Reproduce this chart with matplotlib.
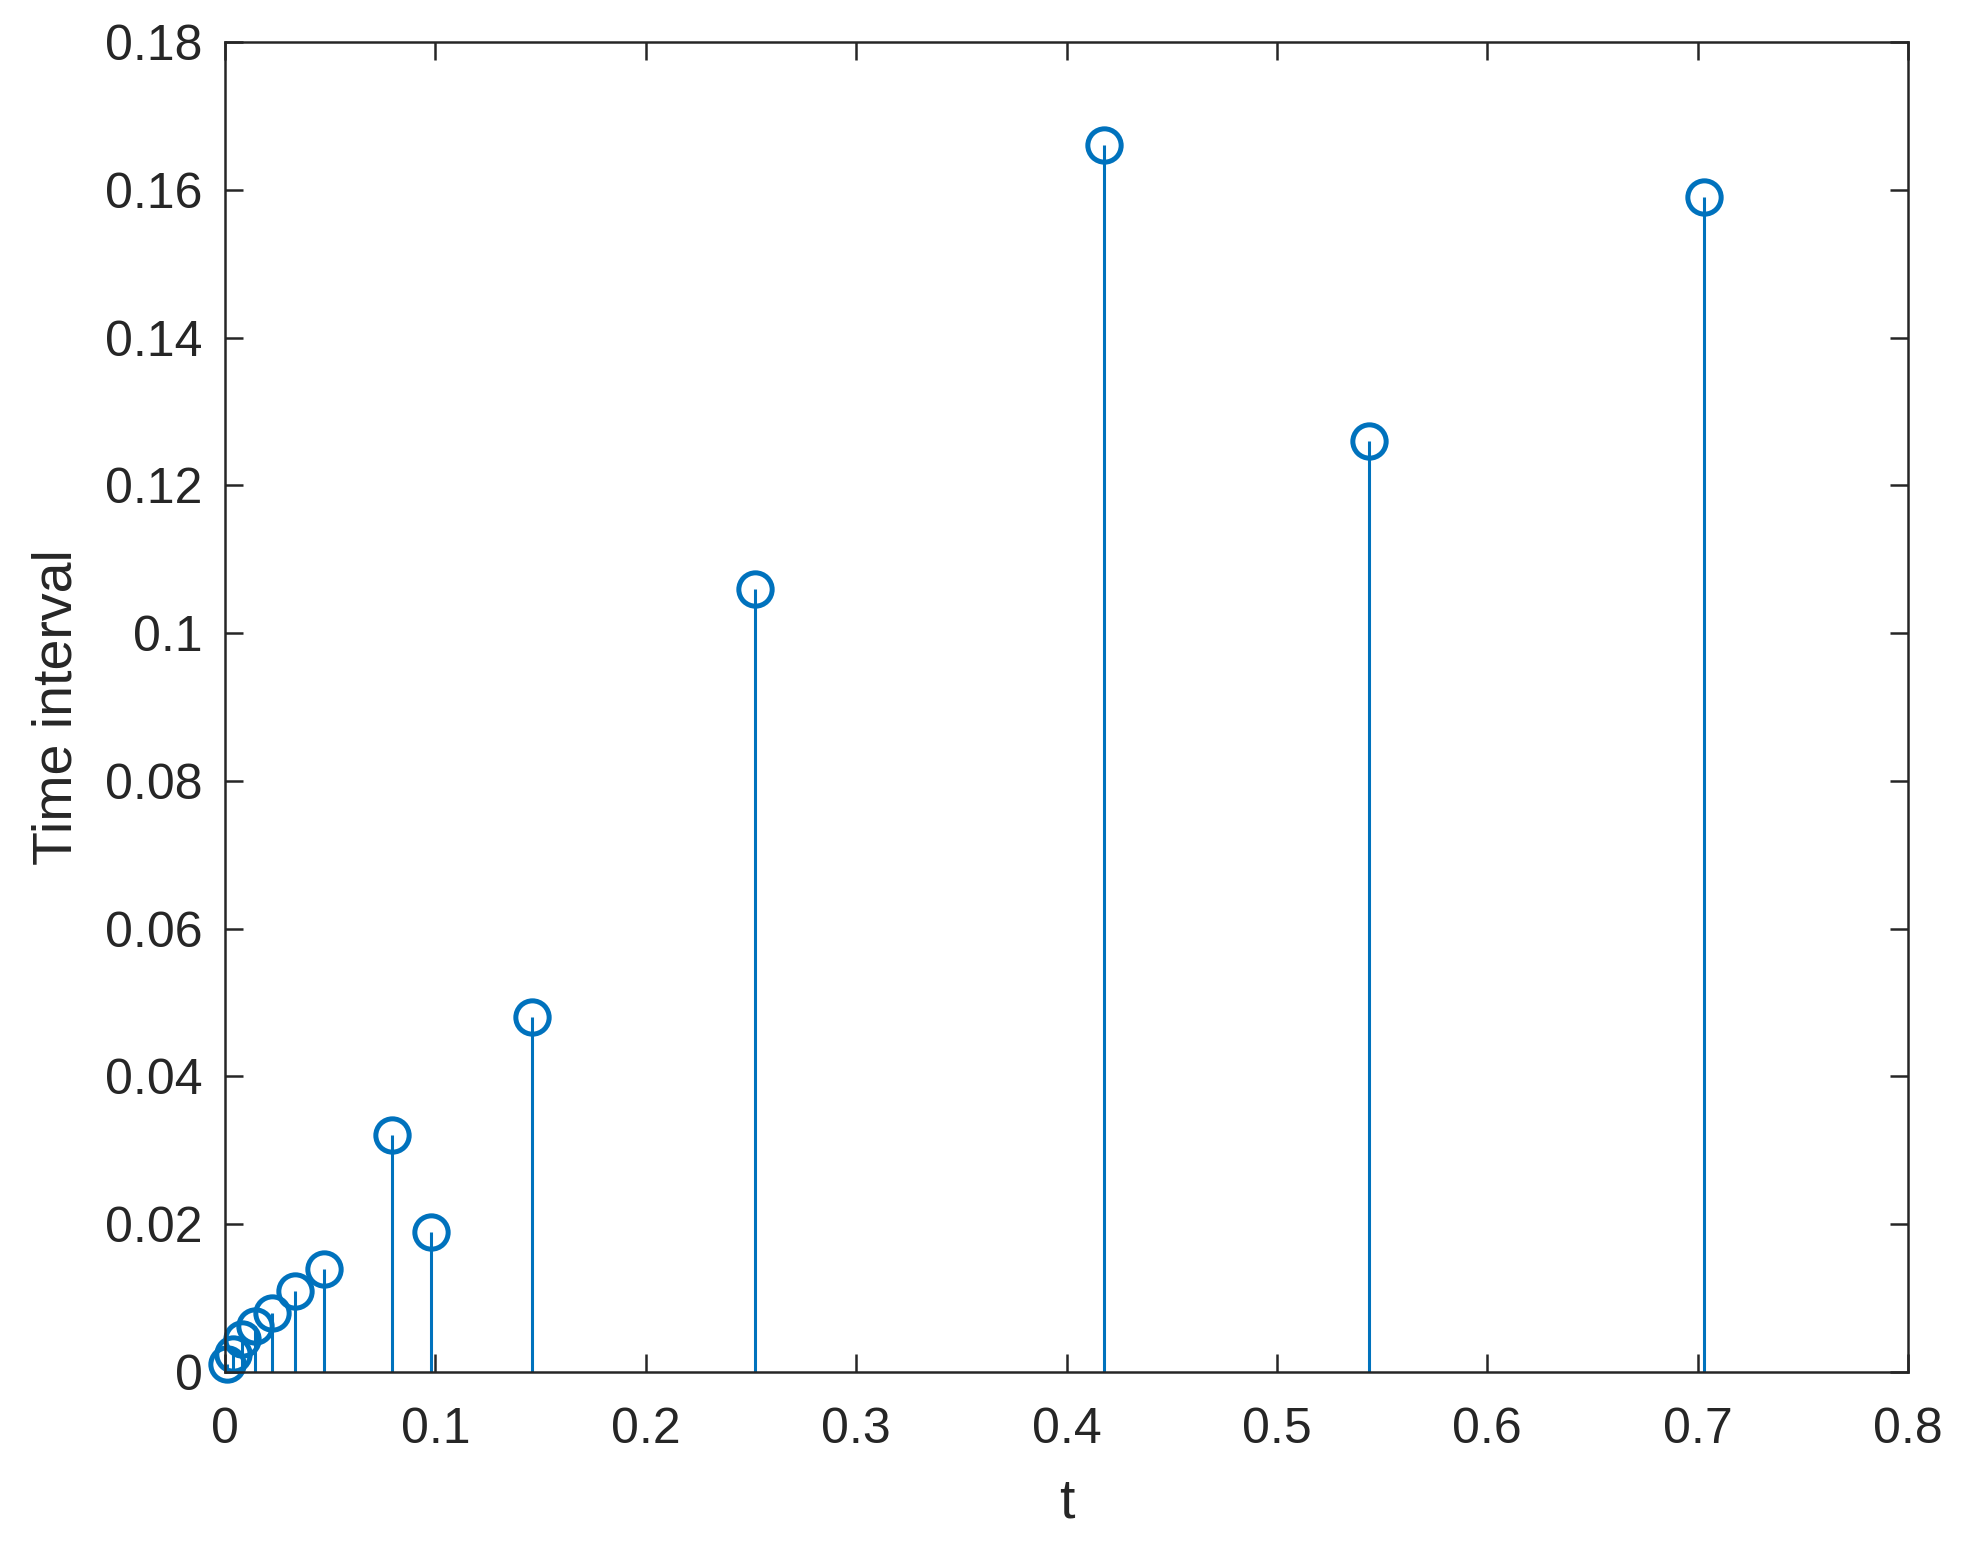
import matplotlib
matplotlib.use("Agg")
import matplotlib.pyplot as plt

# time instants and the step that ended at each of them
t = [0.0011, 0.0036, 0.0081, 0.0143, 0.0223, 0.0333, 0.0472,
     0.0793, 0.0980, 0.146, 0.252, 0.418, 0.544, 0.703]
dt = [0.0011, 0.0025, 0.0045, 0.0062, 0.0080, 0.0110, 0.0140,
      0.0321, 0.0190, 0.048, 0.106, 0.166, 0.126, 0.159]

xticks = [0, 0.1, 0.2, 0.3, 0.4, 0.5, 0.6, 0.7, 0.8]
yticks = [0, 0.02, 0.04, 0.06, 0.08, 0.1, 0.12, 0.14, 0.16, 0.18]

blue = "#0072BD"
dark = "#262626"

plt.rcParams["font.family"] = ["Liberation Sans", "DejaVu Sans"]

fig = plt.figure(figsize=(9.82, 7.72), dpi=200)
ax = fig.add_axes([0.1146, 0.1114, 0.8569, 0.8614])

ax.vlines(t, 0, dt, color=blue, linewidth=1.1)
ax.plot(t, dt, linestyle="none", marker="o", markersize=12,
        markerfacecolor="none", markeredgecolor=blue, markeredgewidth=1.8,
        clip_on=False)

ax.set_xlim(0, 0.8)
ax.set_ylim(0, 0.18)
ax.set_xticks(xticks)
ax.set_xticklabels([f"{v:g}" for v in xticks])
ax.set_yticks(yticks)
ax.set_yticklabels([f"{v:g}" for v in yticks])

ax.tick_params(direction="in", length=6.5, width=0.9, colors=dark,
               labelsize=18, top=True, right=True, pad=8)
ax.tick_params(axis="x", pad=12.5)
for spine in ax.spines.values():
    spine.set_linewidth(0.9)
    spine.set_color(dark)

ax.set_xlabel("t", fontsize=20, color=dark, labelpad=9)
ax.set_ylabel("Time interval", fontsize=20, color=dark, labelpad=8)

fig.savefig("out.png", dpi=200, facecolor="white")
